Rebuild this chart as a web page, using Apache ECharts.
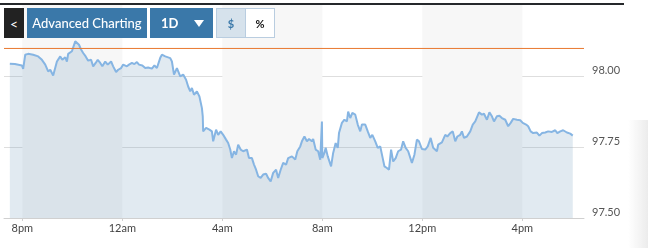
<!DOCTYPE html>
<html><head><meta charset="utf-8">
<script src="https://cdn.jsdelivr.net/npm/echarts@6/dist/echarts.min.js"></script>
<style>
html,body{margin:0;padding:0;background:#fff;}
#wrap{position:relative;width:648px;height:248px;overflow:hidden;font-family:Lato,"Open Sans",sans-serif;}
#chart{position:absolute;left:0;top:0;width:648px;height:248px;}
.topbar{position:absolute;left:0;top:3px;width:624px;height:2px;background:#25282b;}
.btn{position:absolute;top:8px;height:30px;box-sizing:border-box;color:#fff;display:flex;align-items:center;justify-content:center;}
.back{left:4px;width:20px;background:#222;font-size:14px;}
.adv{left:27px;width:120px;background:#3a78a9;font-size:13px;font-weight:500;}
.per{left:150px;width:63px;background:#3a78a9;font-size:13px;font-weight:bold;justify-content:flex-start;padding-left:11px;}
.tri{position:absolute;left:44px;top:12px;width:0;height:0;border-left:5px solid transparent;border-right:5px solid transparent;border-top:7px solid #fff;}
.cur{left:216px;width:30px;background:#d6e2ec;border:1px solid #b9cde0;color:#3a78a9;font-size:11px;font-weight:bold;}
.pct{left:245px;width:30px;background:#fff;border:1px solid #b9cde0;color:#111;font-size:11px;font-weight:bold;}
.shade{position:absolute;left:628px;top:120px;width:20px;height:128px;background:linear-gradient(to right,rgba(240,240,240,0),#ececec);}
</style></head>
<body><div id="wrap"><div id="chart"></div>
<div class="topbar"></div>
<div class="btn back">&lt;</div>
<div class="btn adv">Advanced Charting</div>
<div class="btn per">1D<span class="tri"></span></div>
<div class="btn cur">$</div>
<div class="btn pct">%</div>
<div class="shade"></div>
</div>
<script>
// minutes after 8pm
const minutes = [-30,-18,-1,2,7,14,26,38,47,55,62,67,74,83,91,96,103,107,110,119,122,127,131,136,141,146,152,158,165,170,176,181,187,192,199,205,213,218,225,230,237,242,251,256,263,269,275,280,288,295,302,311,317,323,331,335,343,355,359,364,371,379,386,393,398,403,407,412,419,425,431,433,434,441,449,455,458,465,470,476,482,489,494,499,503,508,513,518,524,530,539,544,551,556,561,566,572,578,585,590,596,602,609,614,620,626,633,638,647,655,660,667,671,677,683,688,695,698,704,710,715,719,720,725,728,733,741,746,752,757,760,767,773,779,782,787,792,799,805,811,815,823,829,835,840,847,853,859,864,869,875,880,885,890,896,902,909,914,920,926,935,941,947,952,959,967,973,980,986,995,998,1007,1015,1020,1027,1033,1039,1044,1051,1055,1060,1067,1075,1081,1087,1091,1096,1103,1108,1115,1121,1127,1132,1139,1145,1151,1159,1166,1172,1178,1187,1195,1201,1209,1214,1220,1226,1235,1241,1247,1255,1262,1271,1279,1284,1291,1298,1307,1315,1321];
const prices = [98.043,98.042,98.037,98.025,98.075,98.078,98.075,98.069,98.057,98.040,98.016,98.022,98.002,98.051,98.069,98.057,98.066,98.051,98.078,98.087,98.093,98.122,98.128,98.110,98.093,98.081,98.069,98.054,98.057,98.034,98.046,98.057,98.046,98.034,98.051,98.040,98.051,98.034,98.014,98.022,98.028,98.040,98.034,98.040,98.046,98.042,98.049,98.040,98.037,98.028,98.030,98.026,98.037,98.028,98.064,98.075,98.069,98.063,98.051,98.005,98.028,97.999,98.005,97.987,97.963,97.946,97.958,97.934,97.946,97.928,97.887,97.858,97.805,97.817,97.811,97.805,97.770,97.811,97.793,97.805,97.793,97.776,97.764,97.741,97.711,97.735,97.723,97.758,97.741,97.735,97.741,97.711,97.711,97.688,97.670,97.647,97.641,97.653,97.656,97.641,97.629,97.659,97.670,97.641,97.670,97.694,97.688,97.711,97.717,97.706,97.735,97.752,97.770,97.787,97.770,97.778,97.770,97.778,97.741,97.735,97.705,97.840,97.711,97.729,97.747,97.717,97.682,97.729,97.764,97.747,97.799,97.835,97.846,97.840,97.875,97.852,97.870,97.864,97.829,97.805,97.829,97.829,97.805,97.782,97.793,97.770,97.747,97.752,97.717,97.682,97.676,97.670,97.741,97.699,97.711,97.735,97.741,97.770,97.747,97.735,97.694,97.723,97.776,97.770,97.743,97.741,97.752,97.782,97.747,97.735,97.758,97.766,97.793,97.787,97.799,97.805,97.770,97.787,97.793,97.805,97.782,97.787,97.805,97.829,97.840,97.835,97.872,97.864,97.867,97.846,97.872,97.858,97.840,97.858,97.860,97.852,97.846,97.823,97.835,97.849,97.846,97.844,97.835,97.829,97.823,97.805,97.799,97.801,97.790,97.799,97.801,97.805,97.803,97.809,97.799,97.805,97.809,97.801,97.797,97.790];
const tickMinutes = [0,240,480,720,960,1200];
const tickLabels = ['8pm','12am','4am','8am','12pm','4pm'];
const shadedFrom = [0,480,960];
const shadedTo = [240,720,1200];
const previousClose = 98.097;
const yTicks = [97.50,97.75,98.00];
const xMin = -44, xMax = 1348;

const series = minutes.map((m,i)=>[m,prices[i]]);
const chart = echarts.init(document.getElementById('chart'));
chart.setOption({
  animation:false,
  grid:{left:4,right:64,top:5,bottom:30,containLabel:false},
  xAxis:{type:'value',min:xMin,max:xMax,
    axisLine:{show:true,lineStyle:{color:'#d0d0d0',width:1}},
    axisTick:{show:true,customValues:tickMinutes,length:3,lineStyle:{color:'#d0d0d0'}},
    axisLabel:{customValues:tickMinutes,margin:5,color:'#444',fontFamily:'Lato',fontSize:11,
      formatter:v=>tickLabels[tickMinutes.indexOf(v)]||''},
    splitLine:{show:false}},
  yAxis:{type:'value',position:'right',min:97.5,max:98.25,interval:0.25,
    axisLine:{show:false},axisTick:{show:false},
    axisLabel:{margin:8,color:'#555',fontFamily:'Lato',fontSize:11,verticalAlign:'bottom',padding:[0,0,0,0],
      formatter:v=>yTicks.some(t=>Math.abs(t-v)<1e-6)?v.toFixed(2):''},
    splitLine:{show:true,lineStyle:{color:['#dedede','#dedede','#dedede','rgba(0,0,0,0)']}}},
  series:[
    {type:'line',data:series,z:1,silent:true,showSymbol:false,lineStyle:{opacity:0},
      markArea:{silent:true,itemStyle:{color:'#f7f7f7',opacity:1},
        data:shadedFrom.map((a,i)=>[{xAxis:a},{xAxis:shadedTo[i]}])}},
    {type:'line',data:series,z:3,showSymbol:false,color:'#86b5e3',
      lineStyle:{color:'#86b5e3',width:2},
      areaStyle:{origin:'start',color:'rgba(120,160,190,0.22)',opacity:1}},
    {type:'line',name:'prev',z:4,silent:true,showSymbol:false,color:'#e8782e',
      data:[[xMin,previousClose],[xMax,previousClose]],
      lineStyle:{color:'#e8782e',width:1}}
  ]
});
</script></body></html>
